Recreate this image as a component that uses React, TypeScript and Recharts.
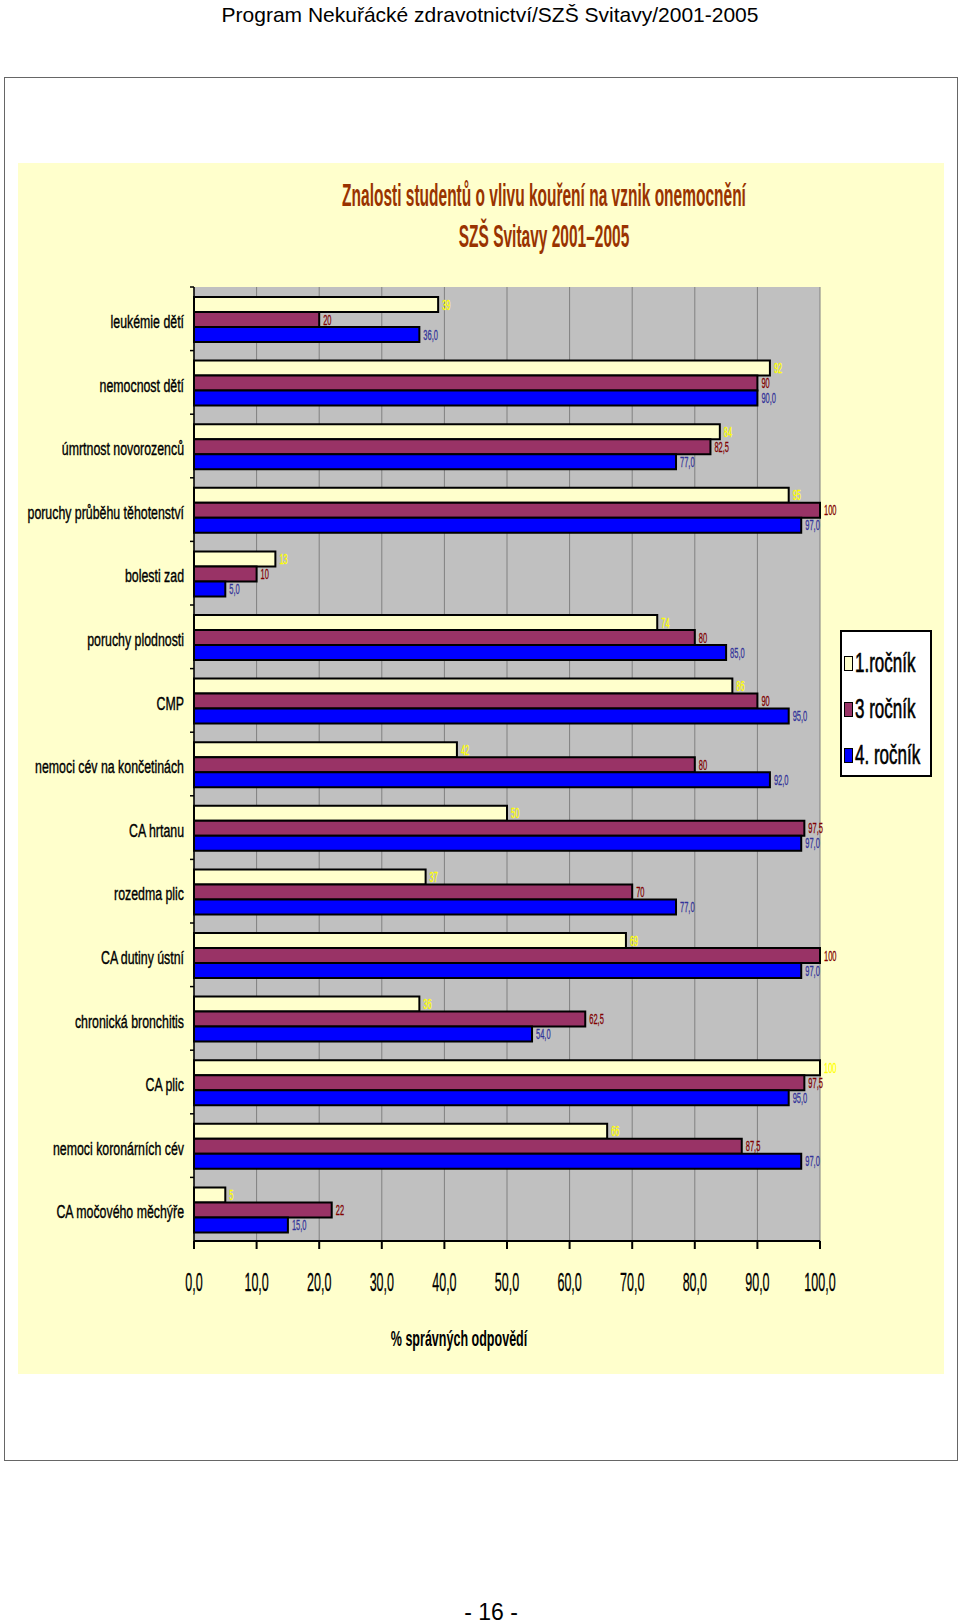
import { BarChart, Bar, XAxis, YAxis, CartesianGrid, LabelList } from 'recharts';

const categories = [
  'leukémie dětí',
  'nemocnost dětí',
  'úmrtnost novorozenců',
  'poruchy průběhu těhotenství',
  'bolesti zad',
  'poruchy plodnosti',
  'CMP',
  'nemoci cév na končetinách',
  'CA hrtanu',
  'rozedma plic',
  'CA dutiny ústní',
  'chronická bronchitis',
  'CA plic',
  'nemoci koronárních cév',
  'CA močového měchýře',
];
const rocnik1 = [39, 92, 84, 95, 13, 74, 86, 42, 50, 37, 69, 36, 100, 66, 5];
const rocnik3 = [20, 90, 82.5, 100, 10, 80, 90, 80, 97.5, 70, 100, 62.5, 97.5, 87.5, 22];
const rocnik4 = [36, 90, 77, 97, 5, 85, 95, 92, 97, 77, 97, 54, 95, 97, 15];
const xTicks = [0, 10, 20, 30, 40, 50, 60, 70, 80, 90, 100];

const FONT = "'Liberation Sans', Arial, sans-serif";

const comma = (s: string) => s.replace('.', ',');

const series = [
  { key: 'r1', name: '1.ročník', fill: '#FFFFCC', labelColor: '#FFFF00', fmt: (v: number) => String(v) },
  { key: 'r3', name: '3 ročník', fill: '#993366', labelColor: '#800000', fmt: (v: number) => comma(String(v)) },
  { key: 'r4', name: '4. ročník', fill: '#0000FF', labelColor: '#333399', fmt: (v: number) => comma(v.toFixed(1)) },
];

const data = categories.map((name, i) => ({
  name,
  r1: rocnik1[i],
  r3: rocnik3[i],
  r4: rocnik4[i],
}));

const YTick = (props: any) => {
  const { x, y, payload } = props;
  const half = payload?.offset ?? 0;
  return (
    <g>
      <line x1={x + 6} x2={x + 10} y1={y - half} y2={y - half} stroke="#000" strokeWidth={1.5} />
      <text
        transform={`translate(${x},${y + 2}) scale(0.65,1)`}
        textAnchor="end"
        dominantBaseline="central"
        fontSize={19}
        fontFamily={FONT}
        fill="#000"
        stroke="#000"
        strokeWidth={0.4}
      >
        {payload.value}
      </text>
    </g>
  );
};

const XTick = (props: any) => {
  const { x, y, payload } = props;
  return (
    <text
      transform={`translate(${x},${y + 31}) scale(0.5,1)`}
      textAnchor="middle"
      dominantBaseline="central"
      fontSize={25}
      fontFamily={FONT}
      fill="#000"
      stroke="#000"
      strokeWidth={0.3}
    >
      {comma(Number(payload.value).toFixed(1))}
    </text>
  );
};

const makeLabel = (color: string, fmt: (v: number) => string) => (props: any) => {
  const { x, y, width, height, value } = props;
  return (
    <text
      transform={`translate(${x + width + 4},${y + height / 2}) scale(0.5,1)`}
      dominantBaseline="central"
      fontSize={15}
      fontFamily={FONT}
      fill={color}
      stroke={color}
      strokeWidth={0.3}
    >
      {fmt(Number(value))}
    </text>
  );
};

export default function App() {
  return (
    <div style={{ position: 'absolute', left: 0, top: 0, width: 960, height: 1624, background: '#fff', fontFamily: FONT }}>
      <div
        style={{
          position: 'absolute',
          left: 4,
          top: 77,
          width: 954,
          height: 1384,
          boxSizing: 'border-box',
          border: '1.5px solid #666',
        }}
      />
      <div style={{ position: 'absolute', left: 18, top: 163, width: 926, height: 1211, background: '#FFFFCC' }} />

      <div style={{ position: 'absolute', left: 0, top: 0 }}>
        <BarChart
          width={960}
          height={1400}
          data={data}
          layout="vertical"
          margin={{ top: 287, right: 140, bottom: 99, left: 14 }}
          barCategoryGap={10}
          barGap={0}
        >
          <CartesianGrid horizontal={false} stroke="#808080" fill="#C0C0C0" />
          <XAxis
            type="number"
            domain={[0, 100]}
            ticks={xTicks}
            interval={0}
            height={60}
            tickSize={8}
            axisLine={{ stroke: '#000', strokeWidth: 2 }}
            tickLine={{ stroke: '#000', strokeWidth: 2 }}
            tick={<XTick />}
          />
          <YAxis
            type="category"
            dataKey="name"
            width={180}
            tickSize={0}
            tickMargin={10}
            tickLine={false}
            interval={0}
            axisLine={{ stroke: '#000', strokeWidth: 1.5 }}
            tick={<YTick />}
          />
          {series.map((s) => (
            <Bar
              key={s.key}
              dataKey={s.key}
              name={s.name}
              fill={s.fill}
              stroke="#000"
              strokeWidth={2}
              isAnimationActive={false}
            >
              <LabelList dataKey={s.key} content={makeLabel(s.labelColor, s.fmt)} />
            </Bar>
          ))}
        </BarChart>
      </div>

      <div
        style={{
          position: 'absolute',
          left: 840,
          top: 630,
          width: 92,
          height: 147,
          boxSizing: 'border-box',
          border: '2px solid #000',
          background: '#fff',
        }}
      >
        {series.map((s, i) => (
          <div key={s.key} style={{ position: 'absolute', left: 2, top: 14 + i * 46, height: 34, display: 'flex', alignItems: 'center' }}>
            <div style={{ width: 9, height: 15, boxSizing: 'border-box', border: '1.5px solid #000', background: s.fill }} />
            <span
              style={{
                display: 'inline-block',
                marginLeft: 2,
                fontSize: 27,
                lineHeight: '34px',
                color: '#000',
                transform: 'scaleX(0.63)',
                transformOrigin: 'left center',
                whiteSpace: 'nowrap',
                WebkitTextStroke: '0.6px #000',
              }}
            >
              {s.name}
            </span>
          </div>
        ))}
      </div>

      <svg width={960} height={1624} style={{ position: 'absolute', left: 0, top: 0, pointerEvents: 'none' }}>
        <text x={490} y={22} textAnchor="middle" fontSize={21} fontFamily={FONT} fill="#000">
          Program Nekuřácké zdravotnictví/SZŠ Svitavy/2001-2005
        </text>
        <text
          transform="translate(544,206) scale(0.5,1)"
          textAnchor="middle"
          fontSize={31}
          fontWeight="bold"
          fontFamily={FONT}
          fill="#993300"
        >
          Znalosti studentů o vlivu kouření na vznik onemocnění
        </text>
        <text
          transform="translate(544,247) scale(0.5,1)"
          textAnchor="middle"
          fontSize={31}
          fontWeight="bold"
          fontFamily={FONT}
          fill="#993300"
        >
          SZŠ Svitavy 2001–2005
        </text>
        <text
          transform="translate(459,1346) scale(0.57,1)"
          textAnchor="middle"
          fontSize={22}
          fontWeight="bold"
          fontFamily={FONT}
          fill="#000"
        >
          % správných odpovědí
        </text>
        <text x={491} y={1620} textAnchor="middle" fontSize={23} fontFamily={FONT} fill="#000">
          - 16 -
        </text>
      </svg>
    </div>
  );
}
